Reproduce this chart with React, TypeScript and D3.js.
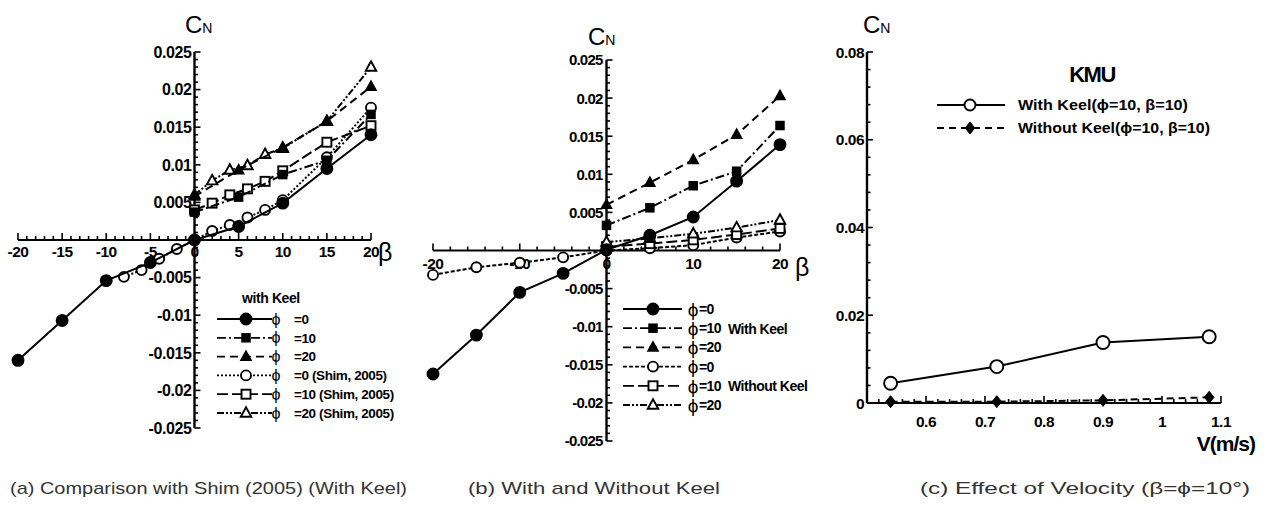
import React from 'react';
import * as d3 from 'd3';

// ---------------- DATA ----------------
const betaFull = [-20, -15, -10, -5, 0, 5, 10, 15, 20];
const betaPos = [0, 5, 10, 15, 20];
const betaShim0 = [-8, -6, -4, -2, 0, 2, 4, 6, 8, 10, 15, 20];
const betaShimPos = [0, 2, 4, 6, 8, 10, 15, 20];

// (a) Comparison with Shim (2005) (With Keel)
const aKeelPhi0 = [-0.016, -0.0107, -0.0054, -0.003, 0, 0.0018, 0.0049, 0.0095, 0.014];
const aKeelPhi10 = [0.0037, 0.0057, 0.0087, 0.0106, 0.0167];
const aKeelPhi20 = [0.0058, 0.0093, 0.0123, 0.0158, 0.0204];
const aShimPhi0 = [-0.0049, -0.004, -0.0025, -0.0012, 0, 0.0012, 0.002, 0.003, 0.004, 0.0053, 0.011, 0.0176];
const aShimPhi10 = [0.004, 0.0049, 0.006, 0.0068, 0.0078, 0.0092, 0.013, 0.0152];
const aShimPhi20 = [0.006, 0.0079, 0.0093, 0.0099, 0.0114, 0.0122, 0.0158, 0.023];

// (b) With and Without Keel
const bKeelPhi0 = [-0.0162, -0.0111, -0.0055, -0.003, 0.0001, 0.002, 0.0044, 0.0091, 0.0139];
const bKeelPhi10 = [0.0033, 0.0056, 0.0085, 0.0104, 0.0164];
const bKeelPhi20 = [0.006, 0.0089, 0.0119, 0.0152, 0.0203];
const bNoKeelPhi0 = [-0.0032, -0.0022, -0.0016, -0.0009, 0, 0.0003, 0.0007, 0.0017, 0.0025];
const bNoKeelPhi10 = [0.0005, 0.0009, 0.0014, 0.0021, 0.0029];
const bNoKeelPhi20 = [0.0011, 0.0016, 0.0022, 0.003, 0.004];

// (c) Effect of Velocity
const velocity = [0.54, 0.72, 0.9, 1.08];
const cWithKeel = [0.0045, 0.0083, 0.0138, 0.0151];
const cWithoutKeel = [0.0003, 0.0003, 0.0006, 0.0013];

// tick labels
const abXTicksA = [-20, -15, -10, -5, 0, 5, 10, 15, 20];
const bXTicks = [-20, -10, 0, 10, 20];
const abYTicks = [0.025, 0.02, 0.015, 0.01, 0.005, -0.005, -0.01, -0.015, -0.02, -0.025];
const cXTicks = [0.6, 0.7, 0.8, 0.9, 1, 1.1];
const cYTicks = [0.08, 0.06, 0.04, 0.02, 0];

const legendA = ['=0', '=10', '=20', '=0 (Shim, 2005)', '=10 (Shim, 2005)', '=20 (Shim, 2005)'];
const legendB = ['=0', '=10', '=20', '=0', '=10', '=20'];
const legendC = ['With Keel(\u03D5=10, \u03B2=10)', 'Without Keel(\u03D5=10, \u03B2=10)'];
const captions = [
  '(a) Comparison with Shim (2005) (With Keel)',
  '(b) With and Without Keel',
  '(c) Effect of Velocity (\u03B2=\u03D5=10\u00B0)',
];

// ---------------- STYLES ----------------
const FONT = "'Liberation Sans', Arial, Helvetica, sans-serif";
const DASH: Record<string, string | undefined> = {
  solid: undefined,
  dashdot: '9,3,2,3',
  dashed: '8,5',
  dotted: '2,2',
  longdash: '11,4',
  dashdotdot: '7,2,2,2,2,2',
  shortdash: '4,2',
  cdash: '7,5',
};

type MType = 'circle' | 'square' | 'triangle' | 'diamond';

function Marker({ type, filled, x, y, s }: { type: MType; filled: boolean; x: number; y: number; s: number }) {
  const fill = filled ? '#000' : '#fff';
  const sw = 1.9;
  if (type === 'circle') return <circle cx={x} cy={y} r={s} fill={fill} stroke="#000" strokeWidth={sw} />;
  if (type === 'square')
    return <rect x={x - s} y={y - s} width={2 * s} height={2 * s} fill={fill} stroke="#000" strokeWidth={sw} />;
  if (type === 'triangle')
    return (
      <path
        d={`M${x},${y - s * 1.15}L${x + s * 1.05},${y + s * 0.75}L${x - s * 1.05},${y + s * 0.75}Z`}
        fill={fill}
        stroke="#000"
        strokeWidth={sw}
      />
    );
  return (
    <path d={`M${x},${y - s}L${x + s * 0.8},${y}L${x},${y + s}L${x - s * 0.8},${y}Z`} fill={fill} stroke="#000" strokeWidth={1} />
  );
}

type Series = { xs: number[]; ys: number[]; type: MType; filled: boolean; dash: string; s: number };

function SeriesView({ ser, x, y }: { ser: Series; x: d3.ScaleLinear<number, number>; y: d3.ScaleLinear<number, number> }) {
  const pts: [number, number][] = ser.xs.map((v, i) => [x(v), y(ser.ys[i])]);
  const line = d3.line()(pts) || '';
  return (
    <g>
      <path d={line} fill="none" stroke="#000" strokeWidth={2} strokeDasharray={DASH[ser.dash]} />
      {pts.map((p, i) => (
        <Marker key={i} type={ser.type} filled={ser.filled} x={p[0]} y={p[1]} s={ser.s} />
      ))}
    </g>
  );
}

function Axes({
  x, y, x0, y0, xMinor, xMajorEvery, yMinor, yMajorEvery, xDomain, yDomain,
}: {
  x: d3.ScaleLinear<number, number>; y: d3.ScaleLinear<number, number>; x0: number; y0: number;
  xMinor: number; xMajorEvery: number; yMinor: number; yMajorEvery: number;
  xDomain: [number, number]; yDomain: [number, number];
}) {
  const xt = d3.range(Math.round((xDomain[1] - xDomain[0]) / xMinor) + 1).map((i) => xDomain[0] + i * xMinor);
  const yt = d3.range(Math.round((yDomain[1] - yDomain[0]) / yMinor) + 1).map((i) => yDomain[0] + i * yMinor);
  const isMajor = (v: number, every: number) => Math.abs(v / every - Math.round(v / every)) < 1e-6;
  return (
    <g stroke="#000" fill="none">
      <line x1={x(xDomain[0])} x2={x(xDomain[1])} y1={y(y0)} y2={y(y0)} strokeWidth={2.2} />
      <line x1={x(x0)} x2={x(x0)} y1={y(yDomain[0])} y2={y(yDomain[1])} strokeWidth={2.4} />
      {xt.map((v, i) => {
        const L = isMajor(v, xMajorEvery) ? 7 : 4;
        return <line key={'x' + i} x1={x(v)} x2={x(v)} y1={y(y0)} y2={y(y0) - L} strokeWidth={1.6} />;
      })}
      {yt.map((v, i) => {
        const L = isMajor(v, yMajorEvery) ? 6 : 3.5;
        return <line key={'y' + i} x1={x(x0)} x2={x(x0) + L} y1={y(v)} y2={y(v)} strokeWidth={1.6} />;
      })}
    </g>
  );
}

function CN({ x, y }: { x: number; y: number }) {
  return (
    <text x={x} y={y} fontFamily={FONT} fontSize={24} fill="#000">
      C<tspan fontSize={14}>N</tspan>
    </text>
  );
}

function PanelA() {
  const x = d3.scaleLinear().domain([-20, 20]).range([18, 371]);
  const y = d3.scaleLinear().domain([-0.025, 0.025]).range([428, 52]);
  const series: Series[] = [
    { xs: betaShim0, ys: aShimPhi0, type: 'circle', filled: false, dash: 'dotted', s: 5 },
    { xs: betaShimPos, ys: aShimPhi10, type: 'square', filled: false, dash: 'longdash', s: 4.5 },
    { xs: betaShimPos, ys: aShimPhi20, type: 'triangle', filled: false, dash: 'dashdotdot', s: 5 },
    { xs: betaFull, ys: aKeelPhi0, type: 'circle', filled: true, dash: 'solid', s: 5.5 },
    { xs: betaPos, ys: aKeelPhi10, type: 'square', filled: true, dash: 'dashdot', s: 3.8 },
    { xs: betaPos, ys: aKeelPhi20, type: 'triangle', filled: true, dash: 'dashed', s: 4.5 },
  ];
  const legendOrder = [3, 4, 5, 0, 1, 2];
  return (
    <g>
      <Axes x={x} y={y} x0={0} y0={0} xMinor={1} xMajorEvery={5} yMinor={0.001} yMajorEvery={0.005} xDomain={[-20, 20]} yDomain={[-0.025, 0.025]} />
      {abYTicks.map((v) => (
        <text key={v} x={x(0) - 3} y={y(v)} dy="0.36em" textAnchor="end" fontFamily={FONT} fontWeight={700} fontSize={16} letterSpacing={-0.4}>
          {String(v)}
        </text>
      ))}
      {abXTicksA.map((v) => (
        <text key={v} x={x(v)} y={257} textAnchor="middle" fontFamily={FONT} fontWeight={700} fontSize={15.5} letterSpacing={-0.5}>
          {String(v)}
        </text>
      ))}
      <CN x={185} y={33} />
      <text x={378} y={261} fontFamily={FONT} fontSize={25}>{'\u03B2'}</text>
      {series.map((s, i) => (
        <SeriesView key={i} ser={s} x={x} y={y} />
      ))}
      <text x={242} y={303} fontFamily={FONT} fontWeight={700} fontSize={14} letterSpacing={-0.4}>with Keel</text>
      {legendOrder.map((si, r) => {
        const ly = 319 + r * 18.8;
        const s = series[si];
        return (
          <g key={r}>
            <line x1={217} x2={272} y1={ly} y2={ly} stroke="#000" strokeWidth={1.8} strokeDasharray={DASH[s.dash]} />
            <Marker type={s.type} filled={s.filled} x={246} y={ly} s={s.s} />
            <text x={276} y={ly} dy="0.35em" textAnchor="middle" fontFamily={FONT} fontSize={16}>{'\u03D5'}</text>
            <text x={294} y={ly} dy="0.36em" fontFamily={FONT} fontWeight={700} fontSize={13.5} letterSpacing={-0.4}>
              {legendA[r]}
            </text>
          </g>
        );
      })}
    </g>
  );
}

function PanelB() {
  const x = d3.scaleLinear().domain([-20, 20]).range([433, 780]);
  const y = d3.scaleLinear().domain([-0.025, 0.025]).range([441, 60]);
  const series: Series[] = [
    { xs: betaFull, ys: bNoKeelPhi0, type: 'circle', filled: false, dash: 'shortdash', s: 5 },
    { xs: betaPos, ys: bNoKeelPhi10, type: 'square', filled: false, dash: 'longdash', s: 4.5 },
    { xs: betaPos, ys: bNoKeelPhi20, type: 'triangle', filled: false, dash: 'dashdotdot', s: 5 },
    { xs: betaFull, ys: bKeelPhi0, type: 'circle', filled: true, dash: 'solid', s: 5.5 },
    { xs: betaPos, ys: bKeelPhi10, type: 'square', filled: true, dash: 'dashdot', s: 3.8 },
    { xs: betaPos, ys: bKeelPhi20, type: 'triangle', filled: true, dash: 'dashed', s: 4.5 },
  ];
  const legendOrder = [3, 4, 5, 0, 1, 2];
  return (
    <g>
      <Axes x={x} y={y} x0={0} y0={0} xMinor={2} xMajorEvery={10} yMinor={0.001} yMajorEvery={0.005} xDomain={[-20, 20]} yDomain={[-0.025, 0.025]} />
      {abYTicks.map((v) => (
        <text key={v} x={x(0) - 4} y={y(v)} dy="0.36em" textAnchor="end" fontFamily={FONT} fontWeight={700} fontSize={15} letterSpacing={-0.8}>
          {String(v)}
        </text>
      ))}
      {bXTicks.map((v) => (
        <text key={v} x={x(v)} y={269} textAnchor="middle" fontFamily={FONT} fontWeight={700} fontSize={15.5} letterSpacing={-0.5}>
          {String(v)}
        </text>
      ))}
      <CN x={588} y={45} />
      <text x={795} y={276} fontFamily={FONT} fontSize={25}>{'\u03B2'}</text>
      {series.map((s, i) => (
        <SeriesView key={i} ser={s} x={x} y={y} />
      ))}
      {legendOrder.map((si, r) => {
        const ly = 309 + r * 19.2;
        const s = series[si];
        return (
          <g key={r}>
            <line x1={623} x2={682} y1={ly} y2={ly} stroke="#000" strokeWidth={1.8} strokeDasharray={DASH[s.dash]} />
            <Marker type={s.type} filled={s.filled} x={653} y={ly} s={s.s} />
            <text x={693} y={ly} dy="0.36em" textAnchor="middle" fontFamily={FONT} fontSize={19}>{'\u03D5'}</text>
            <text x={699} y={ly} dy="0.36em" fontFamily={FONT} fontWeight={700} fontSize={14} letterSpacing={-0.6}>
              {legendB[r]}
            </text>
          </g>
        );
      })}
      <text x={728} y={329} dy="0.36em" fontFamily={FONT} fontWeight={700} fontSize={14} letterSpacing={-0.5}>With Keel</text>
      <text x={728} y={386} dy="0.36em" fontFamily={FONT} fontWeight={700} fontSize={14} letterSpacing={-0.5}>Without Keel</text>
    </g>
  );
}

function PanelC() {
  const x = d3.scaleLinear().domain([0.5, 1.1]).range([867, 1221]);
  const y = d3.scaleLinear().domain([0, 0.08]).range([403, 52]);
  const series: Series[] = [
    { xs: velocity, ys: cWithoutKeel, type: 'diamond', filled: true, dash: 'cdash', s: 6 },
    { xs: velocity, ys: cWithKeel, type: 'circle', filled: false, dash: 'solid', s: 6.5 },
  ];
  return (
    <g>
      <Axes x={x} y={y} x0={0.5} y0={0} xMinor={0.02} xMajorEvery={0.1} yMinor={0.004} yMajorEvery={0.02} xDomain={[0.5, 1.1]} yDomain={[0, 0.08]} />
      {cYTicks.map((v) => (
        <text key={v} x={x(0.5) - 3} y={y(v)} dy="0.36em" textAnchor="end" fontFamily={FONT} fontWeight={700} fontSize={15.5} letterSpacing={-0.5}>
          {String(v)}
        </text>
      ))}
      {cXTicks.map((v) => (
        <text key={v} x={x(v)} y={427} textAnchor="middle" fontFamily={FONT} fontWeight={700} fontSize={15.5} letterSpacing={-0.5}>
          {String(v)}
        </text>
      ))}
      <CN x={863} y={33} />
      <text x={1255} y={451} textAnchor="end" fontFamily={FONT} fontWeight={700} fontSize={21} letterSpacing={-1}>V(m/s)</text>
      {series.map((s, i) => (
        <SeriesView key={i} ser={s} x={x} y={y} />
      ))}
      <text x={1092} y={82} textAnchor="middle" fontFamily={FONT} fontWeight={700} fontSize={22} letterSpacing={-1.5}>KMU</text>
      {[1, 0].map((si, r) => {
        const ly = 105 + r * 23;
        const s = series[si];
        return (
          <g key={r}>
            <line x1={937} x2={1005} y1={ly} y2={ly} stroke="#000" strokeWidth={2} strokeDasharray={DASH[s.dash]} />
            <Marker type={s.type} filled={s.filled} x={970} y={ly} s={s.type === 'circle' ? 5.5 : 6} />
            <text x={1018} y={ly} dy="0.36em" fontFamily={FONT} fontWeight={700} fontSize={15}
              textLength={r === 0 ? 170 : 192} lengthAdjust="spacingAndGlyphs">
              {legendC[r]}
            </text>
          </g>
        );
      })}
    </g>
  );
}

export default function App() {
  const capX = [10, 468, 920];
  const capW = [397, 252, 330];
  return (
    <svg width={1267} height={517} style={{ position: 'absolute', left: 0, top: 0, background: '#fff' }}>
      <rect width={1267} height={517} fill="#fff" />
      <PanelA />
      <PanelB />
      <PanelC />
      {captions.map((c, i) => (
        <text key={i} x={capX[i]} y={494} fontFamily={FONT} fontSize={17} fill="#333" textLength={capW[i]} lengthAdjust="spacingAndGlyphs">
          {c}
        </text>
      ))}
    </svg>
  );
}
